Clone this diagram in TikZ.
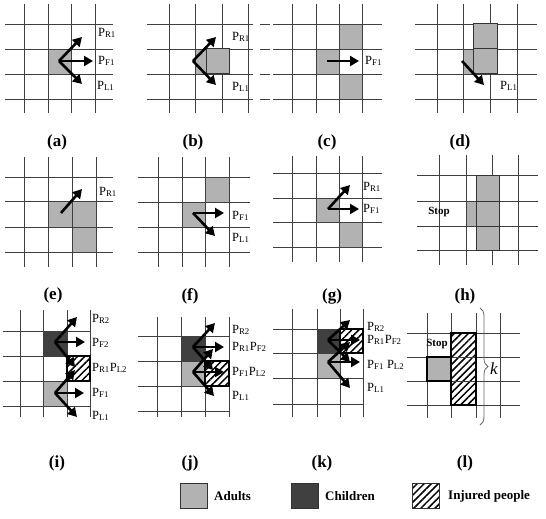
\documentclass[tikz,border=0pt]{standalone}
\usepackage{fontspec}
\setmainfont{Liberation Serif}
\usetikzlibrary{arrows.meta,patterns.meta,decorations.pathreplacing}

% grid of one panel: vertical xs, top, bottom, horizontal ys, left, right
\newcommand{\cellgrid}[6]{%
  \foreach \gx in {#1} \draw[gridline] (\gx,#2) -- (\gx,#3);
  \foreach \gy in {#4} \draw[gridline] (#5,\gy) -- (#6,\gy);}

\begin{document}
\begin{tikzpicture}[x=1pt,y=-1pt,
  gridline/.style={draw=black!75,line width=0.9pt},
  adult/.style={fill=black!30},
  child/.style={fill=black!75},
  injured/.style={pattern={Lines[angle=45,distance=5pt,line width=1.5pt]}},
  cellbox/.style={draw=black!80,line width=1pt},
  heavybox/.style={draw=black,line width=1.5pt},
  move/.style={-{Triangle[length=9pt,width=10pt]},line width=2.6pt},
  plab/.style={anchor=west,inner sep=0pt,font=\fontsize{12.5}{12.5}\selectfont},
  panelcap/.style={font=\bfseries\fontsize{17}{17}\selectfont},
  stoptext/.style={font=\bfseries\fontsize{11}{11}\selectfont},
  keytext/.style={anchor=west,inner sep=0pt,font=\bfseries\fontsize{13}{13}\selectfont}]

\useasboundingbox (0,0) rectangle (546,519);

% (a)
\fill[adult] (48,49) rectangle (71,74);
\cellgrid{24,48,71,95}{4}{113}{24,49,74,99}{5}{113}
\coordinate (a0) at (59,61);
\coordinate (aR) at (82,37);
\coordinate (aF) at (93,61);
\coordinate (aL) at (82,84);
\draw[move] (a0) -- (aR);
\draw[move] (a0) -- (aF);
\draw[move] (a0) -- (aL);
\node[plab] (pa1) at (98,33) {P\textsubscript{R1}};
\node[plab] (pa2) at (98,61) {P\textsubscript{F1}};
\node[plab] (pa3) at (97,86) {P\textsubscript{L1}};
\node[panelcap] (capa) at (57,142) {(a)};

% (b)
\fill[adult] (195,49) rectangle (206,74);
\cellgrid{169,195,222,248}{4}{113}{24,49,74,99}{147}{253}
\draw[adult,cellbox] (206,49) rectangle (229,74);
\coordinate (b0) at (193,61);
\coordinate (bR) at (216,37);
\coordinate (bL) at (216,85);
\draw[move] (b0) -- (bR);
\draw[move] (b0) -- (bL);
\node[plab] (pb1) at (232,37) {P\textsubscript{R1}};
\node[plab] (pb2) at (232,87) {P\textsubscript{L1}};
\node[panelcap] (capb) at (193,142) {(b)};

% (c)
\fill[adult] (316,49) rectangle (339,74);
\fill[adult] (339,24) rectangle (362,49);
\fill[adult] (339,74) rectangle (362,99);
\cellgrid{292,316,339,362}{4}{113}{24,49,74,99}{273}{382}
\foreach \gy in {24,49,74,99} \draw[gridline] (260,\gy) -- (270,\gy);
\coordinate (c0) at (327,61);
\coordinate (cF) at (359,61);
\draw[move] (c0) -- (cF);
\node[plab] (pc1) at (365,61) {P\textsubscript{F1}};
\node[panelcap] (capc) at (327,142) {(c)};

% (d)
\fill[adult] (463,49) rectangle (473,74);
\cellgrid{437,463,490,517}{4}{113}{24,49,74,99}{415}{537}
\draw[adult,cellbox] (473,24) rectangle (497,49);
\draw[adult,cellbox] (473,49) rectangle (497,74);
\coordinate (d0) at (462,61);
\coordinate (dL) at (484,85);
\draw[move] (d0) -- (dL);
\node[plab] (pd1) at (500,86) {P\textsubscript{L1}};
\node[panelcap] (capd) at (460,142) {(d)};

% (e)
\fill[adult] (48,201) rectangle (96,227);
\fill[adult] (72,227) rectangle (96,252);
\cellgrid{24,48,72,96}{157}{267}{177,201,227,252}{5}{113}
\coordinate (e0) at (61,213);
\coordinate (eR) at (82,189);
\draw[move] (e0) -- (eR);
\node[plab] (pe1) at (99,192) {P\textsubscript{R1}};
\node[panelcap] (cape) at (53,295) {(e)};

% (f)
\fill[adult] (205,177) rectangle (229,202);
\fill[adult] (182,202) rectangle (205,227);
\cellgrid{158,182,205,229}{157}{267}{177,202,227,252}{138}{250}
\coordinate (f0) at (193,213);
\coordinate (fF) at (224,213);
\coordinate (fL) at (215,236);
\draw[move] (f0) -- (fF);
\draw[move] (f0) -- (fL);
\node[plab] (pf1) at (232,216) {P\textsubscript{F1}};
\node[plab] (pf2) at (232,238) {P\textsubscript{L1}};
\node[panelcap] (capf) at (190,296) {(f)};

% (g)
\fill[adult] (316,198) rectangle (339,222);
\fill[adult] (339,222) rectangle (362,247);
\cellgrid{292,316,339,362}{156}{262}{173,198,222,247}{273}{382}
\coordinate (g0) at (328,209);
\coordinate (gR) at (350,185);
\coordinate (gF) at (359,209);
\draw[move] (g0) -- (gR);
\draw[move] (g0) -- (gF);
\node[plab] (pg1) at (363,187) {P\textsubscript{R1}};
\node[plab] (pg2) at (363,209) {P\textsubscript{F1}};
\node[panelcap] (capg) at (332,296) {(g)};

% (h)
\fill[adult] (466,201) rectangle (476,226);
\cellgrid{439,466,492,518}{155}{265}{175,201,226,250}{417}{538}
\draw[adult,cellbox] (476,175) rectangle (499,201);
\draw[adult,cellbox] (476,201) rectangle (499,226);
\draw[adult,cellbox] (476,226) rectangle (499,250);
\node[stoptext] (stoph) at (439,212) {Stop};
\node[panelcap] (caph) at (465,296) {(h)};

% (i)
\fill[child] (43,331) rectangle (67,356);
\fill[injured] (67,356) rectangle (90,381);
\fill[adult] (43,381) rectangle (67,406);
\cellgrid{20,43,67,90}{310}{417}{331,356,381,406}{3}{90}
\draw[heavybox] (67,356) rectangle (90,381);
\coordinate (i1) at (55,342);
\coordinate (i1R) at (77,317);
\coordinate (i1F) at (85,342);
\coordinate (i1L) at (75,367);
\coordinate (i2) at (55,393);
\coordinate (i2R) at (75,370);
\coordinate (i2F) at (84,393);
\coordinate (i2L) at (77,417);
\foreach \t in {R,F,L} {
  \draw[move] (i1) -- (i1\t);
  \draw[move] (i2) -- (i2\t);
}
\node[plab] (pi1) at (92,319) {P\textsubscript{R2}};
\node[plab] (pi2) at (92,343) {P\textsubscript{F2}};
\node[plab] (pi3) at (92,368) {P\textsubscript{R1}P\textsubscript{L2}};
\node[plab] (pi4) at (92,393) {P\textsubscript{F1}};
\node[plab] (pi5) at (92,416) {P\textsubscript{L1}};
\node[panelcap] (capi) at (57,463) {(i)};

% (j)
\fill[child] (181,336) rectangle (205,361);
\fill[adult] (181,361) rectangle (205,386);
\fill[injured] (205,361) rectangle (229,386);
\cellgrid{157,181,205,229}{317}{417}{336,361,386,411}{138}{229}
\draw[heavybox] (205,361) rectangle (229,386);
\coordinate (j1) at (193,347);
\coordinate (j1R) at (215,323);
\coordinate (j1F) at (224,347);
\coordinate (j1L) at (213,370);
\coordinate (j2) at (193,372);
\coordinate (j2R) at (213,349);
\coordinate (j2F) at (224,372);
\coordinate (j2L) at (214,396);
\foreach \t in {R,F,L} {
  \draw[move] (j1) -- (j1\t);
  \draw[move] (j2) -- (j2\t);
}
\node[plab] (pj1) at (232,330) {P\textsubscript{R2}};
\node[plab] (pj2) at (232,347) {P\textsubscript{R1}P\textsubscript{F2}};
\node[plab] (pj3) at (232,372) {P\textsubscript{F1}P\textsubscript{L2}};
\node[plab] (pj4) at (232,396) {P\textsubscript{L1}};
\node[panelcap] (capj) at (190,463) {(j)};

% (k)
\fill[child] (317,329) rectangle (340,353);
\fill[injured] (340,329) rectangle (363,353);
\fill[adult] (317,353) rectangle (340,378);
\cellgrid{292,317,340,363}{309}{417}{329,353,378,404}{273}{363}
\draw[heavybox] (340,329) rectangle (363,353);
\coordinate (k1) at (328,340);
\coordinate (k1R) at (350,320);
\coordinate (k1F) at (360,340);
\coordinate (k1L) at (350,362);
\coordinate (k2) at (328,362);
\coordinate (k2R) at (350,342);
\coordinate (k2F) at (360,362);
\coordinate (k2L) at (350,388);
\foreach \t in {R,F,L} {
  \draw[move] (k1) -- (k1\t);
  \draw[move] (k2) -- (k2\t);
}
\node[plab] (pk1) at (367,327) {P\textsubscript{R2}};
\node[plab] (pk2) at (367,340) {P\textsubscript{R1}P\textsubscript{F2}};
\node[plab] (pk3) at (367,365) {P\textsubscript{F1} P\textsubscript{L2}};
\node[plab] (pk4) at (367,388) {P\textsubscript{L1}};
\node[panelcap] (capk) at (322,463) {(k)};

% (l)
\fill[injured] (451,333) rectangle (476,405);
\fill[adult] (427,357) rectangle (451,381);
\cellgrid{427,451,476,500}{313}{418}{333,357,381,405}{407}{520}
\draw[heavybox] (451,333) rectangle (476,405);
\draw[heavybox] (427,357) rectangle (451,381);
\node[stoptext] (stopl) at (437,344) {Stop};
\coordinate (lt) at (480,308);
\coordinate (lb) at (480,425);
\draw[black!60,line width=0.8pt,decorate,decoration={brace,amplitude=8pt}] (lt) -- (lb);
\node[font=\itshape\fontsize{17}{17}\selectfont] (kk) at (494,369) {k};
\node[panelcap] (capl) at (465,463) {(l)};

% key
\draw[adult,cellbox] (180,483) rectangle (207,508);
\node[keytext] (key1) at (214,496) {Adults};
\draw[child,cellbox] (291,483) rectangle (318,508);
\node[keytext] (key2) at (325,496) {Children};
\draw[injured,cellbox] (412,483) rectangle (439,508);
\node[keytext] (key3) at (448,496) {Injured people};
\end{tikzpicture}
\end{document}
